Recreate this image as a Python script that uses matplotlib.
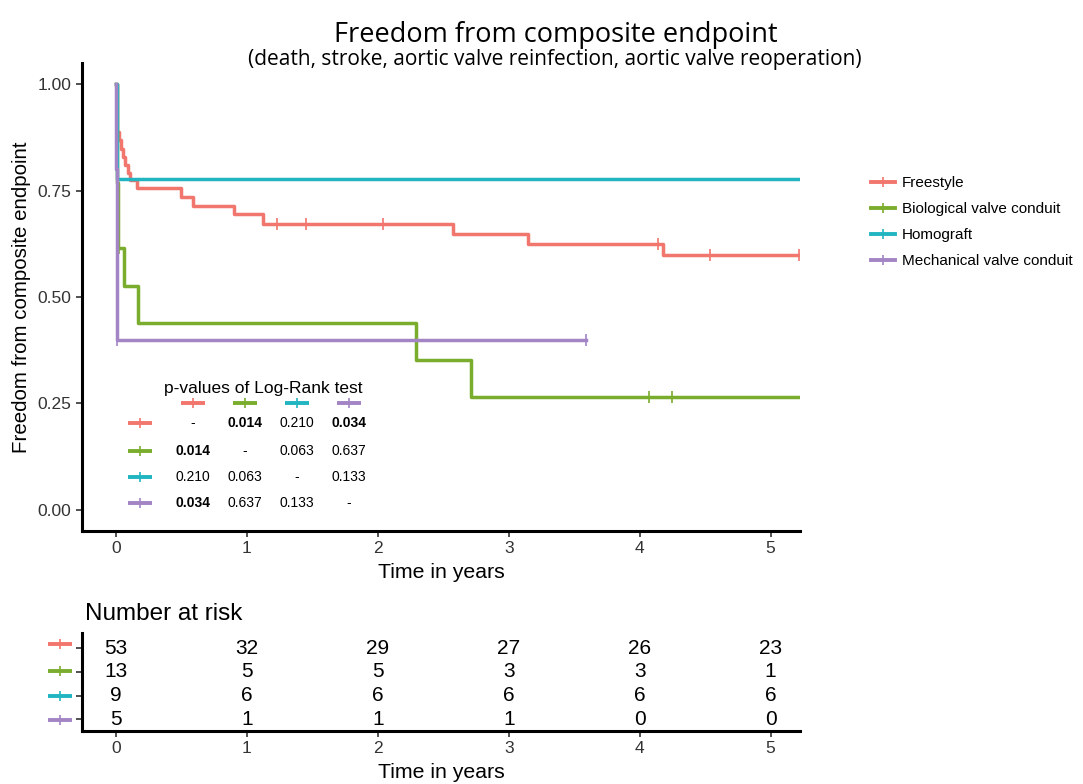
import matplotlib.pyplot as plt
from matplotlib.lines import Line2D

plt.rcParams['font.family'] = ['Liberation Sans', 'DejaVu Sans']

# --- data ---
groups = ['Freestyle', 'Biological valve conduit', 'Homograft', 'Mechanical valve conduit']
colors = ['#F1766D', '#7AAD2D', '#21B5C1', '#A384C4']

fs_t = [0, 0.005, 0.02, 0.035, 0.05, 0.07, 0.09, 0.105, 0.16, 0.50, 0.59, 0.90, 1.12, 2.575, 3.15, 4.18, 5.22]
fs_s = [1.0, 0.887, 0.868, 0.849, 0.830, 0.811, 0.792, 0.776, 0.757, 0.736, 0.715, 0.694, 0.672, 0.649, 0.624, 0.599, 0.599]
fs_ct = [0.005, 1.23, 1.45, 2.04, 4.14, 4.54, 5.22]
fs_cs = [0.887, 0.672, 0.672, 0.672, 0.624, 0.599, 0.599]

bv_t = [0, 0.005, 0.008, 0.011, 0.014, 0.017, 0.06, 0.17, 2.295, 2.715, 5.22]
bv_s = [1.0, 0.923, 0.846, 0.769, 0.692, 0.615, 0.527, 0.44, 0.352, 0.264, 0.264]
bv_ct = [0.02, 4.07, 4.25]
bv_cs = [0.615, 0.264, 0.264]

hg_t = [0, 0.005, 0.008, 5.22]
hg_s = [1.0, 0.889, 0.778, 0.778]
hg_ct = [0.005]
hg_cs = [0.778]

mv_t = [0, 0.002, 0.004, 0.006, 3.59]
mv_s = [1.0, 0.8, 0.6, 0.4, 0.4]
mv_ct = [0.006, 3.59]
mv_cs = [0.4, 0.4]

curves = [(fs_t, fs_s, fs_ct, fs_cs), (bv_t, bv_s, bv_ct, bv_cs),
          (hg_t, hg_s, hg_ct, hg_cs), (mv_t, mv_s, mv_ct, mv_cs)]

# pairwise log-rank p-values (row, col), None on the diagonal
pvals = [[None, '0.014', '0.210', '0.034'],
         ['0.014', None, '0.063', '0.637'],
         ['0.210', '0.063', None, '0.133'],
         ['0.034', '0.637', '0.133', None]]
significant = ['0.014', '0.034']

risk_times = [0, 1, 2, 3, 4, 5]
risk_fs = [53, 32, 29, 27, 26, 23]
risk_bv = [13, 5, 5, 3, 3, 1]
risk_hg = [9, 6, 6, 6, 6, 6]
risk_mv = [5, 1, 1, 1, 0, 0]
risk = [risk_fs, risk_bv, risk_hg, risk_mv]

W, H = 1083, 784


def px(x, y):
    return x / W, 1 - y / H


def handle(x, y, color):
    # little "line with censor tick" key, centred on pixel (x, y)
    fig.add_artist(Line2D([(x - 12) / W, (x + 12) / W], [1 - y / H] * 2,
                          color=color, lw=2.8, solid_capstyle='butt'))
    fig.add_artist(Line2D([x / W], [1 - y / H], color=color, marker='|',
                          markersize=7, mew=1.2, ls='none'))


def style_axes(a):
    a.tick_params(labelsize=12.5, length=4, width=1.2, colors='#333333', labelcolor='#333333')
    for side in ['top', 'right']:
        a.spines[side].set_visible(False)
    for side in ['left', 'bottom']:
        a.spines[side].set_linewidth(2.2)
        a.spines[side].set_color('black')


fig = plt.figure(figsize=(W / 100, H / 100), dpi=100)

# --- survival curves ---
ax = fig.add_axes([82 / W, 1 - 531 / H, (800 - 82) / W, (531 - 63) / H])
for (t, s, ct, cs), c in zip(curves, colors):
    ax.step(t, s, where='post', color=c, lw=2.5)
    ax.plot(ct, cs, ls='none', marker='|', color=c, markersize=8, mew=1.2)

ax.set_xlim(-0.26, 5.225)
ax.set_ylim(-0.05, 1.05)
ax.set_xticks(risk_times)
ax.set_yticks([0, 0.25, 0.5, 0.75, 1.0])
ax.set_yticklabels(['0.00', '0.25', '0.50', '0.75', '1.00'])
style_axes(ax)
ax.set_xlabel('Time in years', fontsize=15.3, labelpad=5)
ax.set_ylabel('Freedom from composite endpoint', fontsize=14.8, labelpad=5)

# legend
proxies = [Line2D([], [], color=c, lw=2.8, marker='|', markersize=7, mew=1.2) for c in colors]
fig.legend(proxies, groups, loc='upper left', bbox_to_anchor=px(865, 170), frameon=False,
           fontsize=11, handlelength=1.55, handletextpad=0.45, labelspacing=0.78,
           borderaxespad=0)

# p-value table
fig.text(*px(263, 388), 'p-values of Log-Rank test', fontsize=12.5, ha='center', va='center')
col_x = [193, 245, 297, 349]
row_y = [423, 451, 477, 503]
for j, c in enumerate(colors):
    handle(col_x[j], 403, c)
for i, c in enumerate(colors):
    handle(140, row_y[i], c)
    for j in range(4):
        v = pvals[i][j]
        txt = '-' if v is None else v
        fig.text(*px(col_x[j], row_y[i]), txt, fontsize=10, ha='center', va='center',
                 fontweight='bold' if v in significant else 'normal')

# titles
fig.text(*px(556, 35), 'Freedom from composite endpoint', fontsize=19.5,
         family='Open Sans', ha='center', va='center')
fig.text(*px(555, 60), '(death, stroke, aortic valve reinfection, aortic valve reoperation)',
         fontsize=15, family='Open Sans', ha='center', va='center')

# --- number at risk table ---
ax2 = fig.add_axes([82 / W, 1 - 731 / H, (800 - 82) / W, (731 - 633) / H])
rows = [4, 3, 2, 1]
for r, counts in zip(rows, risk):
    for t, n in zip(risk_times, counts):
        ax2.text(t, r, str(n), ha='center', va='center', fontsize=15)
ax2.set_xlim(-0.26, 5.225)
ax2.set_ylim(0.517, 4.63)
ax2.set_xticks(risk_times)
ax2.set_yticks(rows)
ax2.set_yticklabels([])
style_axes(ax2)
ax2.set_xlabel('Time in years', fontsize=15.3, labelpad=5)
ax2.set_title('Number at risk', fontsize=17.5, loc='left', x=0.004, pad=9)
for r, c in zip([644, 671, 696, 720], colors):
    handle(60, r, c)

fig.savefig('out.png', dpi=100)
